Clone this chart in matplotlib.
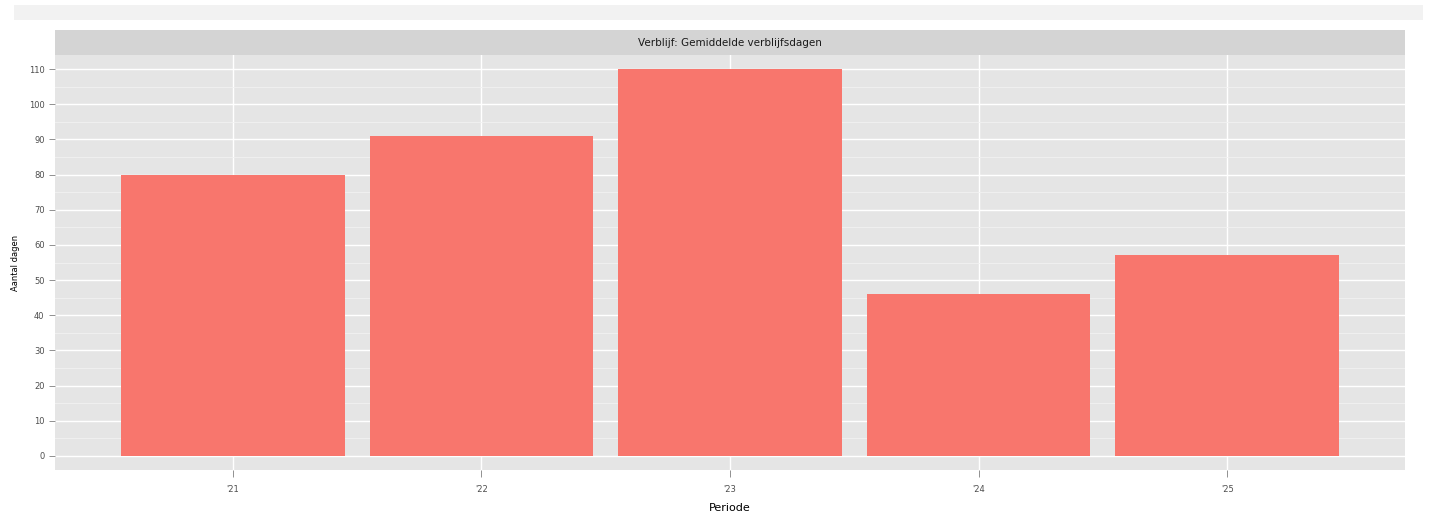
import matplotlib.pyplot as plt
from matplotlib.patches import Rectangle

periods = ["'21", "'22", "'23", "'24", "'25"]
days = [80, 91, 110, 46, 57]
yticks = list(range(0, 111, 10))

fig = plt.figure(figsize=(14.37, 5.18), dpi=100)
fig.patch.set_facecolor('white')
# light band at top of the screenshot
fig.patches.append(Rectangle((0.01, 0.962), 0.98, 0.028, transform=fig.transFigure,
                             facecolor='#f2f2f2', edgecolor='none'))

ax = fig.add_axes([55 / 1437, 48 / 518, 1350 / 1437, 415 / 518])
ax.set_facecolor('#e5e5e5')
x = range(1, len(periods) + 1)
ax.bar(x, days, width=0.9, color='#F8766D', zorder=3)

ax.set_xlim(0.285, 5.715)
ax.set_ylim(-4, 114)
ax.set_xticks(list(x))
ax.set_xticklabels(periods, fontsize=6, color='#4d4d4d')
ax.set_yticks(yticks)
ax.set_yticklabels([str(v) for v in yticks], fontsize=6, color='#4d4d4d')
ax.set_yticks([v + 5 for v in yticks[:-1]], minor=True)
ax.grid(which='major', color='white', linewidth=1.0, zorder=0)
ax.grid(which='minor', axis='y', color='#f2f2f2', linewidth=0.6, zorder=0)
ax.set_axisbelow(True)
ax.tick_params(axis='x', which='major', length=5, pad=6, color='#7f7f7f', width=0.6)
ax.tick_params(axis='y', which='major', length=4, color='#7f7f7f', width=0.6)
ax.tick_params(which='minor', length=0)
for s in ax.spines.values():
    s.set_visible(False)

ax.set_xlabel('Periode', fontsize=8, labelpad=6)
ax.set_ylabel('Aantal dagen', fontsize=6, labelpad=6)

# facet strip
strip = fig.add_axes([55 / 1437, 463 / 518, 1350 / 1437, 25 / 518])
strip.set_facecolor('#d4d4d4')
strip.set_xticks([])
strip.set_yticks([])
for s in strip.spines.values():
    s.set_visible(False)
strip.text(0.5, 0.5, 'Verblijf: Gemiddelde verblijfsdagen', ha='center', va='center',
           fontsize=7.5, color='#1a1a1a', transform=strip.transAxes)

fig.savefig('out.png', dpi=100)
